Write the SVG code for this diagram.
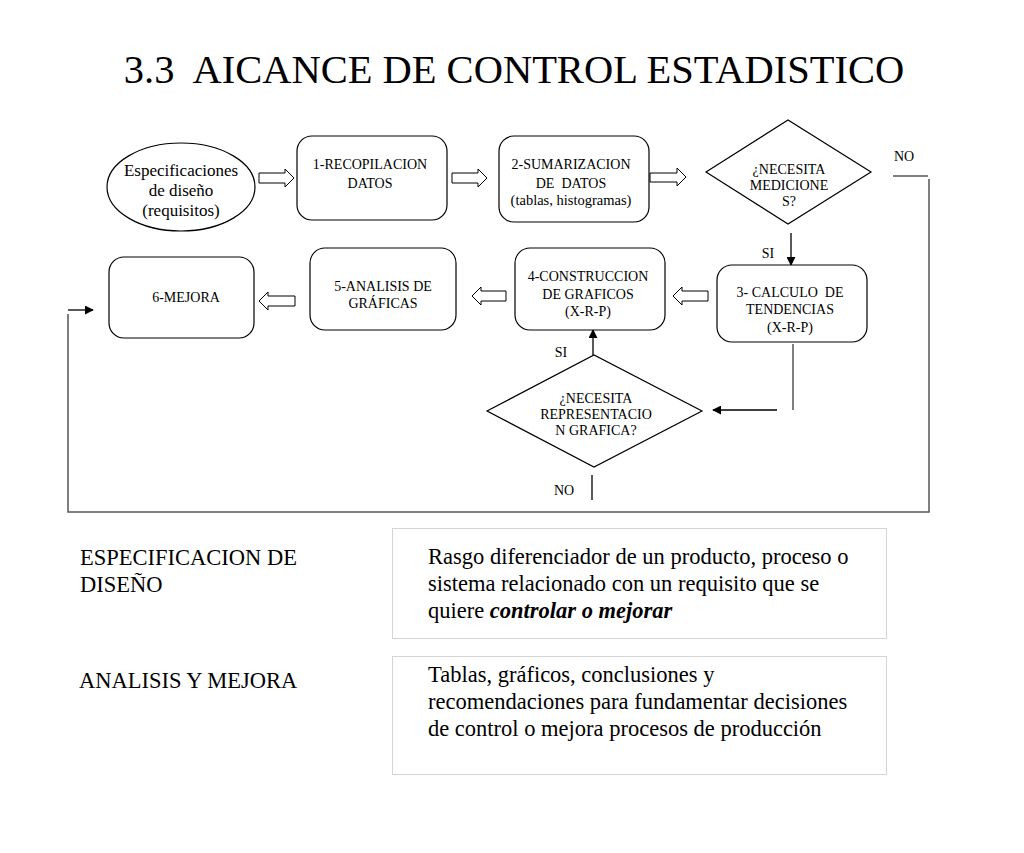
<svg xmlns="http://www.w3.org/2000/svg" width="1024" height="853" viewBox="0 0 1024 853">
<defs>
<marker id="ah" viewBox="0 0 10 10" refX="9" refY="5" markerWidth="9" markerHeight="9" markerUnits="userSpaceOnUse" orient="auto">
<path d="M0,0 L10,5 L0,10 z" fill="#000"/>
</marker>
</defs>
<style>
text{font-family:"Liberation Serif","Times New Roman",serif;fill:#000;white-space:pre}
.t{font-size:14px;text-anchor:middle}
.s{font-size:14.5px;text-anchor:middle}
.e{font-size:17px;text-anchor:middle}
.lb{font-size:14px;text-anchor:middle}
.box{fill:#fff;stroke:#000;stroke-width:1.2}
.ln{fill:none;stroke:#000;stroke-width:1.3}
.gl{fill:none;stroke:#555;stroke-width:1.5}
.ho{fill:#fff;stroke:#000;stroke-width:1}
.dot{fill:#fff;stroke:#aaa;stroke-width:1;stroke-dasharray:1,1}
.big{font-size:22.5px}
.title{font-size:40.5px;text-anchor:middle}
</style>
<rect width="1024" height="853" fill="#fff"/>
<text class="title" x="514" y="83">3.3  AICANCE DE CONTROL ESTADISTICO</text>

<g id="connectors">
<path class="gl" d="M893,176 H928 M929,179 V512 H68 V314"/>
<path class="ln" d="M68,310 H93" marker-end="url(#ah)"/>
<path class="ln" d="M791,233 V265" marker-end="url(#ah)"/>
<path class="gl" d="M793,344 V410"/>
<path class="ln" d="M777,410 H713" marker-end="url(#ah)"/>
<path class="ln" d="M593,355 V330" marker-end="url(#ah)"/>
<path class="ln" d="M592,475 V500"/>
<path class="ho" d="M259,173 H285 V169 L294,178 L285,187 V183 H259 z"/>
<path class="ho" d="M452,173 H478 V169 L487,178 L478,187 V183 H452 z"/>
<path class="ho" d="M650,173 H677 V168 L686,177 L677,186 V182 H650 z"/>
<path class="ho" d="M708,291 H682 V287 L673,296 L682,305 V301 H708 z"/>
<path class="ho" d="M506,291 H481 V287 L472,296 L481,305 V301 H506 z"/>
<path class="ho" d="M295,296 H268 V292 L259,301 L268,310 V306 H295 z"/>
<text class="lb" x="904" y="161">NO</text>
<text class="lb" x="768" y="258">SI</text>
<text class="lb" x="561" y="357">SI</text>
<text class="lb" x="564" y="495">NO</text>
</g>

<g id="n0">
<ellipse class="box" cx="181" cy="187" rx="74" ry="44"/>
<text class="e" x="181" y="176">Especificaciones</text>
<text class="e" x="181" y="196">de diseño</text>
<text class="e" x="181" y="216">(requisitos)</text>
</g>
<g id="n1">
<rect class="box" x="297" y="136" width="150" height="84" rx="15"/>
<text class="t" x="370" y="169">1-RECOPILACION</text>
<text class="t" x="370" y="188">DATOS</text>
</g>
<g id="n2">
<rect class="box" x="499" y="136" width="150" height="86" rx="15"/>
<text class="t" x="571" y="169">2-SUMARIZACION</text>
<text class="t" x="571" y="188">DE  DATOS</text>
<text class="s" x="571" y="205">(tablas, histogramas)</text>
</g>
<g id="d1">
<polygon class="box" points="706,172 788,120 871,172 788,224"/>
<text class="t" x="789" y="174">¿NECESITA</text>
<text class="t" x="789" y="190">MEDICIONE</text>
<text class="t" x="789" y="206">S?</text>
</g>
<g id="n3">
<rect class="box" x="717" y="265" width="150" height="77" rx="15"/>
<text class="t" x="790" y="297">3- CALCULO  DE</text>
<text class="t" x="790" y="314">TENDENCIAS</text>
<text class="t" x="790" y="332">(X-R-P)</text>
</g>
<g id="n4">
<rect class="box" x="515" y="248" width="150" height="82" rx="15"/>
<text class="t" x="588" y="281">4-CONSTRUCCION</text>
<text class="t" x="588" y="299">DE GRAFICOS</text>
<text class="t" x="588" y="316">(X-R-P)</text>
</g>
<g id="n5">
<rect class="box" x="310" y="248" width="146" height="82" rx="15"/>
<text class="t" x="383" y="291">5-ANALISIS DE</text>
<text class="t" x="383" y="308">GRÁFICAS</text>
</g>
<g id="n6">
<rect class="box" x="109" y="257" width="145" height="81" rx="15"/>
<text class="t" x="186" y="302">6-MEJORA</text>
</g>
<g id="d2">
<polygon class="box" points="487,411 594,355 702,411 594,467"/>
<text class="t" x="596" y="403">¿NECESITA</text>
<text class="t" x="596" y="419">REPRESENTACIO</text>
<text class="t" x="596" y="435">N GRAFICA?</text>
</g>

<g id="legend">
<text class="big" x="80" y="565">ESPECIFICACION DE</text>
<text class="big" x="80" y="592">DISEÑO</text>
<text class="big" x="79" y="688">ANALISIS Y MEJORA</text>
<rect class="dot" x="392.5" y="528.5" width="494" height="110"/>
<text class="big" x="428" y="564">Rasgo diferenciador de un producto, proceso o</text>
<text class="big" x="428" y="591">sistema relacionado con un requisito que se</text>
<text class="big" x="428" y="618">quiere <tspan font-weight="bold" font-style="italic">controlar o mejorar</tspan></text>
<rect class="dot" x="392.5" y="656.5" width="494" height="118"/>
<text class="big" x="428" y="682">Tablas, gráficos, conclusiones y</text>
<text class="big" x="428" y="709">recomendaciones para fundamentar decisiones</text>
<text class="big" x="428" y="736">de control o mejora procesos de producción</text>
</g>
</svg>
